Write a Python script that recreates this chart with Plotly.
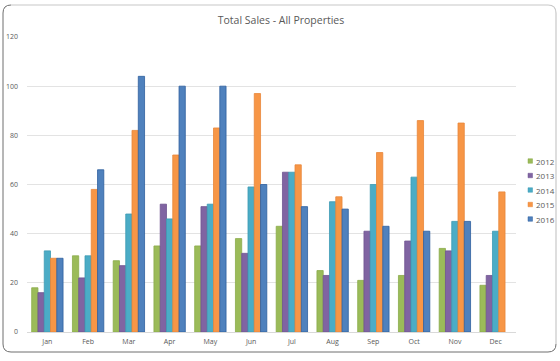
import plotly.graph_objects as go

months = ["Jan", "Feb", "Mar", "Apr", "May", "Jun", "Jul", "Aug", "Sep", "Oct", "Nov", "Dec"]
s2012 = [18, 31, 29, 35, 35, 38, 43, 25, 21, 23, 34, 19]
s2013 = [16, 22, 27, 52, 51, 32, 65, 23, 41, 37, 33, 23]
s2014 = [33, 31, 48, 46, 52, 59, 65, 53, 60, 63, 45, 41]
s2015 = [30, 58, 82, 72, 83, 97, 68, 55, 73, 86, 85, 57]
s2016 = [30, 66, 104, 100, 100, 60, 51, 50, 43, 41, 45, None]

series = [
    ("2012", s2012, "#9BBB59", "#8aab4a"),
    ("2013", s2013, "#8064A2", "#6e5490"),
    ("2014", s2014, "#4BACC6", "#3d9bb4"),
    ("2015", s2015, "#F79646", "#e8873a"),
    ("2016", s2016, "#4F81BD", "#2f5f9e"),
]

fig = go.Figure()
for name, vals, col, lc in series:
    fig.add_trace(go.Bar(x=months, y=vals, name=name,
                         marker=dict(color=col, line=dict(color=lc, width=0.8))))

W, H = 560, 361
L, R, T, B = 27, 44, 37, 29
pw, ph = W - L - R, H - T - B

def px(x):
    return (x - L) / pw

def py(y):
    return (H - B - y) / ph

x0, x1, y0, y1, r = 3, 556, 5, 352, 8
dark = (f"M {px(x0+r)},{py(y0)} Q {px(x0)},{py(y0)} {px(x0)},{py(y0+r)} "
        f"L {px(x0)},{py(y1-r)} Q {px(x0)},{py(y1)} {px(x0+r)},{py(y1)} "
        f"L {px(x1-r)},{py(y1)} Q {px(x1)},{py(y1)} {px(x1)},{py(y1-r)}")
light = (f"M {px(x0+r)},{py(y0)} L {px(x1-r)},{py(y0)} Q {px(x1)},{py(y0)} {px(x1)},{py(y0+r)} "
         f"L {px(x1)},{py(y1-r)}")

shapes = [
    dict(type="path", xref="paper", yref="paper", path=light,
         line=dict(color="#c8c8c8", width=1.2), layer="above"),
    dict(type="path", xref="paper", yref="paper", path=dark,
         line=dict(color="#6e6e6e", width=1), layer="above"),
]
annotations = []
# legend (keys drawn to match the compact reference legend)
for i, (name, vals, col, lc) in enumerate(series):
    yc = 161 + i * 14.5
    shapes.append(dict(type="rect", xref="paper", yref="paper",
                       x0=px(528), x1=px(532.5), y0=py(yc + 2.25), y1=py(yc - 2.25),
                       fillcolor=col, line=dict(color=lc, width=0.5), layer="above"))
    annotations.append(dict(text=name, xref="paper", yref="paper", x=px(534), y=py(yc),
                            xanchor="left", yanchor="middle", showarrow=False,
                            font=dict(size=8, color="#595959")))

fig.update_layout(
    width=W, height=H,
    margin=dict(l=L, r=R, t=T, b=B, autoexpand=False),
    paper_bgcolor="white", plot_bgcolor="white",
    barmode="group", bargap=0.23, bargroupgap=0,
    font=dict(family="Open Sans, Liberation Sans, sans-serif", color="#595959"),
    title=dict(text="Total Sales - All Properties", x=281 / W, xref="container",
               xanchor="center", y=1 - 20 / H, yanchor="middle",
               font=dict(size=10.5, color="#595959")),
    xaxis=dict(showgrid=False, showline=True, linecolor="#d9d9d9", linewidth=1,
               ticks="", tickfont=dict(size=7, color="#595959"), ticklabelstandoff=3),
    yaxis=dict(range=[0, 120], dtick=20, showgrid=True, gridcolor="#e3e3e3",
               gridwidth=1, zeroline=False, showline=False, ticks="",
               tickfont=dict(size=7, color="#595959"), ticklabelstandoff=8),
    showlegend=False,
    shapes=shapes,
    annotations=annotations,
)

fig.write_html("out.html", config={"displayModeBar": False},
               post_script="document.body.style.margin='0';")
